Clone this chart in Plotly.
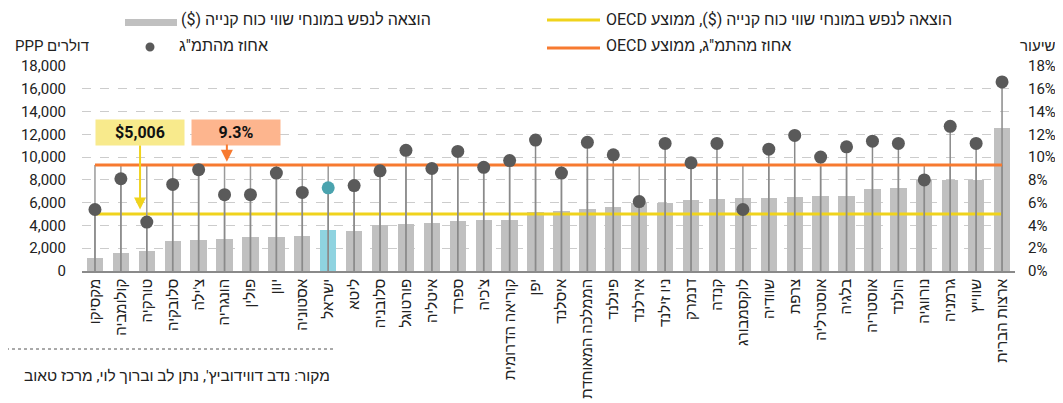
import plotly.graph_objects as go

# countries, left to right
countries = ["מקסיקו", "קולומביה", "טורקיה", "סלובקיה", "צ'ילה", "הונגריה", "פולין", "יוון",
             "אסטוניה", "ישראל", "ליטא", "סלובניה", "פורטוגל", "איטליה", "ספרד", "צ'כיה",
             "קוריאה הדרומית", "יפן", "איסלנד", "הממלכה המאוחדת", "פינלנד", "אירלנד", "ניו זילנד",
             "דנמרק", "קנדה", "לוקסמבורג", "שוודיה", "צרפת", "אוסטרליה", "בלגיה", "אוסטריה",
             "הולנד", "נורווגיה", "גרמניה", "שווייץ", "ארצות הברית"]

# spending per capita, PPP dollars
spend_ppp = [1150, 1600, 1800, 2650, 2700, 2800, 2950, 3000, 3050, 3600, 3500, 4050,
             4100, 4250, 4400, 4450, 4500, 5200, 5250, 5450, 5650, 6000, 6000, 6250,
             6300, 6400, 6400, 6500, 6550, 6550, 7200, 7300, 7950, 8000, 8000, 12550]

# percent of GDP
pct_gdp = [5.4, 8.1, 4.3, 7.6, 8.9, 6.7, 6.7, 8.6, 6.9, 7.3, 7.5, 8.8,
           10.6, 9.0, 10.5, 9.1, 9.7, 11.5, 8.6, 11.3, 10.2, 6.1, 11.2, 9.5,
           11.2, 5.4, 10.7, 11.9, 10.0, 10.9, 11.4, 11.2, 8.0, 12.7, 11.2, 16.6]

oecd_ppp = 5006
oecd_pct = 9.3

def rtl(s):
    # right-to-left embedding so Latin bits and brackets sit where Hebrew expects them
    return "\u202b" + s + "\u202c"

FONT = "Roboto, 'Liberation Sans', Arial, sans-serif"
TXT = "#222222"

# the page body has an 8px margin, so the figure is a bit smaller than the window
PAGE_OFF = 8
# plot area in page pixels (used to place the hand-made legend)
L, R, T, B = 82, 1015, 66, 271
def px(x):
    return (x - L) / (R - L)
def py(y):
    return (B - y) / (B - T)

bar_cols = ["#8fd3e0" if c == "ישראל" else "#c0c0c0" for c in countries]
dot_cols = ["#4aa3ae" if c == "ישראל" else "#5a5a5a" for c in countries]

fig = go.Figure()

fig.add_trace(go.Bar(x=countries, y=spend_ppp, marker_color=bar_cols, width=0.63,
                     marker_line_width=0, yaxis="y"))

# stems: up to the OECD line and up to each dot
sx, sy, dx, dy = [], [], [], []
for c, v in zip(countries, pct_gdp):
    sx += [c, c, None]
    sy += [0, oecd_pct, None]
    dx += [c, c, None]
    dy += [0, v, None]
fig.add_trace(go.Scatter(x=sx, y=sy, mode="lines", line=dict(color="#9a9a9a", width=1.5),
                         yaxis="y2", hoverinfo="skip"))
fig.add_trace(go.Scatter(x=dx, y=dy, mode="lines", line=dict(color="#8a8a8a", width=1.5),
                         yaxis="y2", hoverinfo="skip"))

fig.add_trace(go.Scatter(x=[countries[0], countries[-1]], y=[oecd_ppp, oecd_ppp], mode="lines",
                         line=dict(color="#f0d31c", width=3), yaxis="y"))
fig.add_trace(go.Scatter(x=[countries[0], countries[-1]], y=[oecd_pct, oecd_pct], mode="lines",
                         line=dict(color="#f77a30", width=3), yaxis="y2"))

fig.add_trace(go.Scatter(x=countries, y=pct_gdp, mode="markers",
                         marker=dict(size=13, color=dot_cols), yaxis="y2"))

shapes = [
    # legend swatches
    dict(type="rect", xref="paper", yref="paper", x0=px(125), x1=px(177), y0=py(26), y1=py(19),
         fillcolor="#c0c0c0", line_width=0),
    dict(type="line", xref="paper", yref="paper", x0=px(547), x1=px(600), y0=py(20), y1=py(20),
         line=dict(color="#f0d31c", width=3)),
    dict(type="circle", xref="paper", yref="paper", x0=px(145.5), x1=px(154.5), y0=py(51.5), y1=py(42.5),
         fillcolor="#5a5a5a", line_width=0),
    dict(type="line", xref="paper", yref="paper", x0=px(547), x1=px(600), y0=py(48), y1=py(48),
         line=dict(color="#f77a30", width=3)),
    # dotted separator above source
    dict(type="line", xref="paper", yref="paper", x0=px(0), x1=px(333), y0=py(349), y1=py(349),
         line=dict(color="#555555", width=1, dash="dot")),
]

def label(x, y, text, anchor="left", size=16, **kw):
    return dict(xref="paper", yref="paper", x=px(x), y=py(y), text=text, showarrow=False,
                xanchor=anchor, yanchor="middle", font=dict(size=size, color=TXT, family=FONT), **kw)

annotations = [
    label(179, 19, rtl("הוצאה לנפש במונחי שווי כוח קנייה ($)")),
    label(604, 19, rtl("הוצאה לנפש במונחי שווי כוח קנייה ($), ממוצע OECD")),
    label(177, 46, rtl('אחוז מהתמ"ג')),
    label(604, 46, rtl('אחוז מהתמ"ג, ממוצע OECD')),
    label(91, 46, rtl("דולרים PPP"), anchor="right", size=15),
    label(1018, 46, rtl("שיעור"), size=15),
    label(332, 376, rtl("מקור: נדב דווידוביץ', נתן לב וברוך לוי, מרכז טאוב"), anchor="right", size=15.5),
    # callout boxes
    dict(x=1.74, y=12200, xref="x", yref="y", text="<b>$5,006</b>", showarrow=False,
         bgcolor="#f8ea8c", width=86, height=23, font=dict(size=16, color="#111111", family=FONT)),
    dict(x=5.44, y=12200, xref="x", yref="y", text="<b>9.3%</b>", showarrow=False,
         bgcolor="#fdb58e", width=86, height=23, font=dict(size=16, color="#111111", family=FONT)),
    # callout arrows
    dict(x=1.74, y=5400, xref="x", yref="y", ax=1.74, ay=11150, axref="x", ayref="y", text="",
         showarrow=True, arrowhead=2, arrowsize=1.2, arrowwidth=2, arrowcolor="#f0d31c"),
    dict(x=5.09, y=9600, xref="x", yref="y", ax=5.09, ay=11250, axref="x", ayref="y", text="",
         showarrow=True, arrowhead=2, arrowsize=1.2, arrowwidth=2, arrowcolor="#f77a30"),
]

W, H = 1063 - PAGE_OFF, 403 - PAGE_OFF
fig.update_layout(
    width=W, height=H,
    margin=dict(l=L - PAGE_OFF, r=1063 - R, t=T - PAGE_OFF, b=403 - B, autoexpand=False),
    paper_bgcolor="white", plot_bgcolor="white",
    showlegend=False,
    font=dict(family=FONT, size=15, color=TXT),
    bargap=0,
    xaxis=dict(type="category", range=[-0.5, len(countries) - 0.5], tickangle=-90,
               showline=True, linecolor="#8a8a8a", linewidth=1.5, showgrid=False,
               ticks="", tickfont=dict(size=15, color=TXT)),
    yaxis=dict(range=[0, 18000], dtick=2000, tickformat=",", showgrid=True,
               gridcolor="#cccccc", griddash="dash", gridwidth=1, zeroline=False,
               ticklabelstandoff=15, tickfont=dict(size=15, color=TXT)),
    yaxis2=dict(range=[0, 18], dtick=2, ticksuffix="%", overlaying="y", side="right",
                showgrid=False, zeroline=False, ticklabelstandoff=12,
                tickfont=dict(size=15, color=TXT)),
    shapes=shapes,
    annotations=annotations,
)

fig.write_html("out.html")
